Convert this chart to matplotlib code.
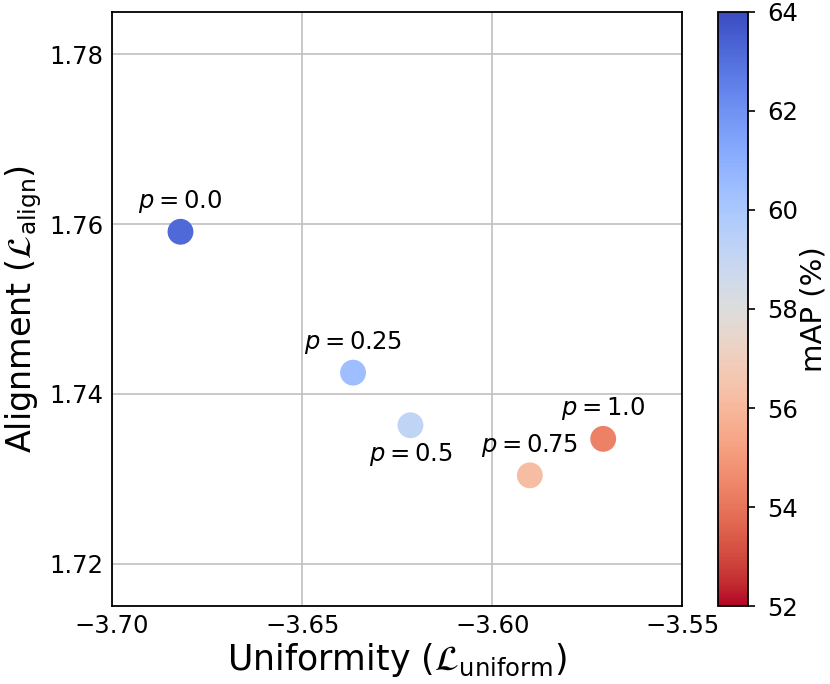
import numpy as np
import matplotlib.pyplot as plt
from matplotlib.colors import Normalize

# values
p_labels = ['0.0', '0.25', '0.5', '0.75', '1.0']
uniformity = [-3.682, -3.6366, -3.6215, -3.5901, -3.5708]
alignment = [1.7591, 1.7425, 1.7363, 1.7304, 1.7347]
map_score = [63.2, 60.4, 59.2, 56.2, 54.3]
label_below = [False, False, True, False, False]

fig = plt.figure(figsize=(8.3, 6.84), dpi=100)
ax = fig.add_axes([0.135, 0.114, 0.687, 0.8685])
cax = fig.add_axes([0.865, 0.114, 0.036, 0.8685])

norm = Normalize(vmin=52, vmax=64)
sc = ax.scatter(uniformity, alignment, c=map_score, cmap='coolwarm_r', norm=norm,
                s=310, zorder=3)

for x, y, lab, below in zip(uniformity, alignment, p_labels, label_below):
    if below:
        ax.annotate(r'$p={}$'.format(lab), (x, y), xytext=(0, -11),
                    textcoords='offset points', ha='center', va='top', fontsize=17.5)
    else:
        ax.annotate(r'$p={}$'.format(lab), (x, y), xytext=(0, 12),
                    textcoords='offset points', ha='center', va='bottom', fontsize=17.5)

ax.set_xlim(-3.70, -3.55)
ax.set_ylim(1.715, 1.785)
ax.set_xticks([-3.70, -3.65, -3.60, -3.55])
ax.set_yticks([1.72, 1.74, 1.76, 1.78])
ax.grid(True, color='#c0c0c0', linewidth=1.2)
ax.set_axisbelow(True)
ax.tick_params(axis='both', length=0, pad=6, labelsize=17.5)
for s in ax.spines.values():
    s.set_linewidth(1.3)

ax.set_xlabel(r'Uniformity ($\mathcal{L}_{\rm uniform}$)', fontsize=25, labelpad=2)
ax.set_ylabel(r'Alignment ($\mathcal{L}_{\rm align}$)', fontsize=24, labelpad=4)

cbar = fig.colorbar(sc, cax=cax)
cbar.set_ticks([52, 54, 56, 58, 60, 62, 64])
cbar.ax.tick_params(labelsize=17.5, length=5, width=1.2, pad=9)
cbar.set_label('mAP (%)', fontsize=21, labelpad=1)
cbar.outline.set_linewidth(1.3)

plt.savefig('out.png', dpi=100)
